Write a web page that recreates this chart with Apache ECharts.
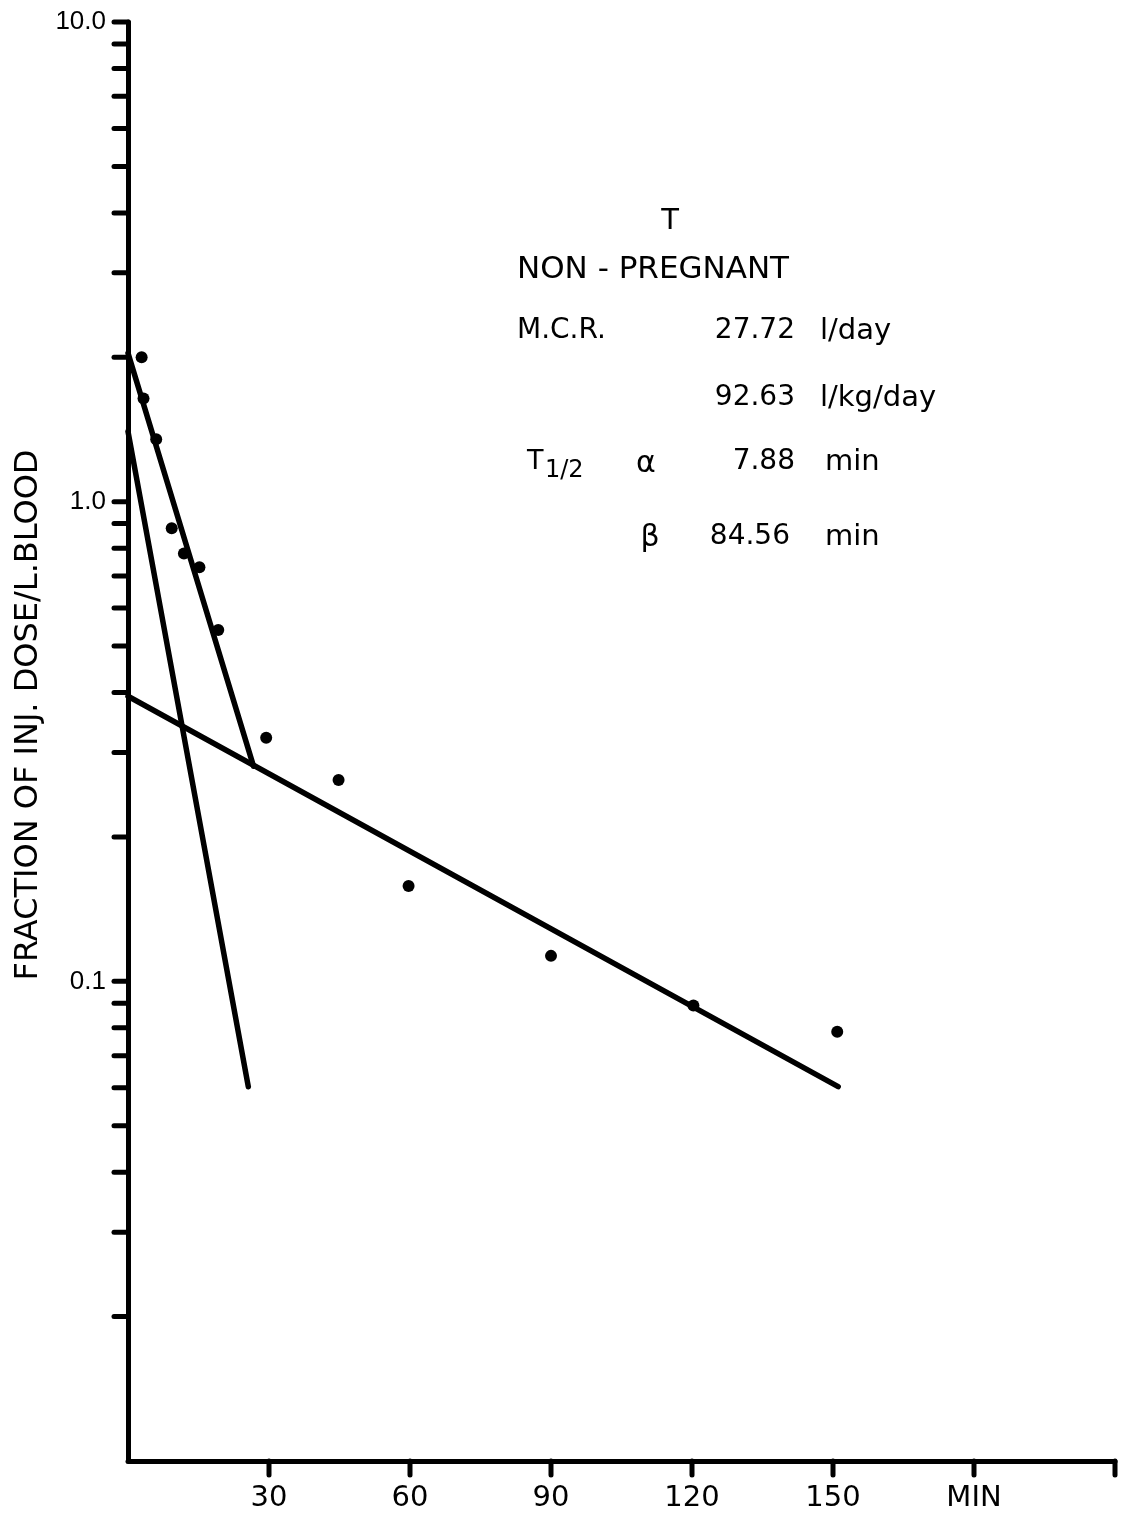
<!DOCTYPE html>
<html>
<head>
<meta charset="utf-8">
<title>Non-pregnant T clearance</title>
<script src="https://cdn.jsdelivr.net/npm/echarts@6/dist/echarts.min.js"></script>
<style>
  html, body { margin: 0; padding: 0; background: #ffffff; }
  #chart { width: 1130px; height: 1515px; }
</style>
</head>
<body>
<div id="chart"></div>
<script>
// Blood samples: time after injection (min) and fraction of injected dose per litre
const sampleTimes  = [2.9, 3.3, 6.0, 9.3, 11.9, 15.2, 19.2, 29.4, 44.8, 59.7, 90.0, 120.3, 150.9];
const sampleValues = [2.0, 1.64, 1.35, 0.88, 0.78, 0.73, 0.54, 0.322, 0.263, 0.158, 0.113, 0.089, 0.0785];

// Fitted straight lines on the semi-log plot
const earlyFitTimes  = [0, 26.7];
const earlyFitValues = [2.04, 0.281];
const alphaTimes     = [0, 25.6];
const alphaValues    = [1.40, 0.0603];
const betaTimes      = [0, 151.1];
const betaValues     = [0.393, 0.0603];

// Axis ticks and labels
const xTickValues = [30, 60, 90, 120, 150, 180, 210];
const xTickLabels = ['30', '60', '90', '120', '150', 'MIN', ''];
const yTickValues = [
  0.02, 0.03, 0.04, 0.05, 0.06, 0.07, 0.08, 0.09,
  0.1, 0.2, 0.3, 0.4, 0.5, 0.6, 0.7, 0.8, 0.9,
  1, 2, 3, 4, 5, 6, 7, 8, 9, 10
];
const yMajorLabels = { '1': '10.0', '0': '1.0', '-1': '0.1' };

const INK = '#000000';
const FONT = '"DejaVu Sans", "Noto Sans", sans-serif';

const pairs = (xs, ys) => xs.map((x, i) => [x, ys[i]]);

function tickSeries(data, dx, dy) {
  return {
    type: 'custom',
    silent: true,
    clip: false,
    z: 5,
    data: data,
    encode: { x: 0, y: 1 },
    renderItem: function (params, api) {
      const p = api.coord([api.value(0), api.value(1)]);
      return {
        type: 'line',
        shape: { x1: p[0], y1: p[1], x2: p[0] + dx, y2: p[1] + dy },
        style: { stroke: INK, lineWidth: 5, lineCap: 'round' }
      };
    }
  };
}

function fitLine(xs, ys) {
  return {
    type: 'line',
    data: pairs(xs, ys),
    symbol: 'none',
    silent: true,
    z: 3,
    lineStyle: { color: INK, width: 5.5, cap: 'round', opacity: 1 }
  };
}

function label(text, x, y, size, align, extra) {
  return Object.assign({
    type: 'text',
    x: x,
    y: y,
    silent: true,
    style: {
      text: text,
      fontSize: size,
      fontFamily: FONT,
      fill: INK,
      align: align,
      verticalAlign: 'middle'
    }
  }, extra || {});
}

const chart = echarts.init(document.getElementById('chart'), null, { renderer: 'canvas' });

chart.setOption({
  backgroundColor: '#ffffff',
  animation: false,
  grid: { left: 128, right: 15, top: 22, bottom: 54, containLabel: false },
  xAxis: {
    type: 'value',
    min: 0,
    max: 210,
    interval: 30,
    axisLine: { show: true, onZero: false, lineStyle: { color: INK, width: 5 } },
    axisTick: { show: false },
    splitLine: { show: false },
    axisLabel: {
      margin: 23,
      color: INK,
      fontSize: 29,
      fontFamily: FONT,
      showMinLabel: true,
      showMaxLabel: true,
      formatter: function (v) {
        const i = xTickValues.indexOf(Math.round(v));
        return i >= 0 ? xTickLabels[i] : '';
      }
    }
  },
  yAxis: {
    type: 'log',
    logBase: 10,
    min: 0.01,
    max: 10,
    axisLine: { show: true, lineStyle: { color: INK, width: 5 } },
    axisTick: { show: false },
    minorTick: { show: false },
    splitLine: { show: false },
    axisLabel: {
      margin: 22,
      color: INK,
      fontSize: 26,
      fontFamily: '"Liberation Sans", Arial, sans-serif',
      formatter: function (v) {
        const e = Math.round(Math.log10(v));
        return yMajorLabels[String(e)] || '';
      }
    }
  },
  series: [
    fitLine(earlyFitTimes, earlyFitValues),
    fitLine(alphaTimes, alphaValues),
    fitLine(betaTimes, betaValues),
    {
      type: 'scatter',
      data: pairs(sampleTimes, sampleValues),
      symbol: 'circle',
      symbolSize: 12,
      silent: true,
      z: 4,
      itemStyle: { color: INK, opacity: 1 }
    },
    tickSeries(yTickValues.map(v => [0, v]), -14, 0),
    tickSeries(xTickValues.map(t => [t, 0.01]), 0, 14)
  ],
  graphic: [
    label('FRACTION OF INJ. DOSE/L.BLOOD', 29, 715, 32, 'center', { rotation: Math.PI / 2 }),
    label('T', 670, 221, 29, 'center'),
    label('NON - PREGNANT', 517, 270, 31, 'left'),
    label('M.C.R.', 517, 331, 28, 'left'),
    label('27.72', 795, 331, 28, 'right'),
    label('l/day', 820, 331, 29, 'left'),
    label('92.63', 795, 398, 28, 'right'),
    label('l/kg/day', 820, 398, 29, 'left'),
    label('T', 527, 462, 27, 'left'),
    label('1/2', 545, 471, 24, 'left'),
    label('α', 646, 464, 30, 'center'),
    label('7.88', 795, 462, 28, 'right'),
    label('min', 825, 462, 29, 'left'),
    label('β', 650, 538, 30, 'center'),
    label('84.56', 790, 537, 28, 'right'),
    label('min', 825, 537, 29, 'left')
  ]
});
</script>
</body>
</html>
